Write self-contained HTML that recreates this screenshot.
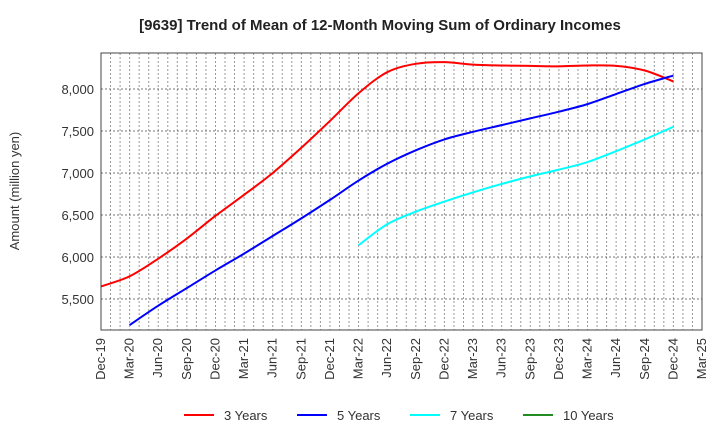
<!DOCTYPE html>
<html><head><meta charset="utf-8"><style>
body{margin:0;background:#fff;font-family:"Liberation Sans",Arial,sans-serif;}
svg text{font-family:"Liberation Sans",Arial,sans-serif;}
</style></head><body>
<svg id="chart" width="720" height="440">
<text x="380" y="30" text-anchor="middle" font-size="15" font-weight="bold" fill="#222">[9639]  Trend of Mean of 12-Month Moving Sum of Ordinary Incomes</text>
<text transform="translate(19,191) rotate(-90)" text-anchor="middle" font-size="13" fill="#333">Amount (million yen)</text>
<g id="grid"></g><g id="series"></g><g id="axes"></g>
<rect x="101" y="53" width="601" height="277" fill="none" stroke="#444" stroke-width="1"/>
<g>
<g><line x1="184" y1="415" x2="214" y2="415" stroke="#ff0000" stroke-width="2"/><text x="224" y="420" font-size="13" fill="#333">3 Years</text></g>
<g><line x1="297" y1="415" x2="327" y2="415" stroke="#0000ff" stroke-width="2"/><text x="337" y="420" font-size="13" fill="#333">5 Years</text></g>
<g><line x1="410" y1="415" x2="440" y2="415" stroke="#00ffff" stroke-width="2"/><text x="450" y="420" font-size="13" fill="#333">7 Years</text></g>
<g><line x1="523" y1="415" x2="553" y2="415" stroke="#228b22" stroke-width="2"/><text x="563" y="420" font-size="13" fill="#333">10 Years</text></g>
</g>
</svg>
<script>
const xTickLabels=["Dec-19","Mar-20","Jun-20","Sep-20","Dec-20","Mar-21","Jun-21","Sep-21","Dec-21","Mar-22","Jun-22","Sep-22","Dec-22","Mar-23","Jun-23","Sep-23","Dec-23","Mar-24","Jun-24","Sep-24","Dec-24","Mar-25"];
const yTicks=[5500,6000,6500,7000,7500,8000];
const years3=[5650,5770,5980,6220,6490,6740,7000,7300,7620,7950,8200,8300,8320,8290,8280,8275,8270,8280,8275,8220,8090];
const years5=[null,5190,5420,5630,5840,6040,6250,6460,6680,6910,7110,7270,7400,7490,7570,7650,7730,7820,7940,8060,8160];
const years7=[null,null,null,null,null,null,null,null,null,6140,6390,6540,6660,6770,6870,6960,7040,7130,7260,7400,7550];
const years10=[];
const NS="http://www.w3.org/2000/svg";
const X0=101,X1=702,Y0=53,Y1=330,MONTHS=63;
const xm=m=>X0+(X1-X0)*m/MONTHS;
const xq=i=>xm(i*3);
const y=v=>89+(8000-v)/1000*84;
function mk(tag,attrs,parent){const e=document.createElementNS(NS,tag);for(const k in attrs)e.setAttribute(k,attrs[k]);parent.appendChild(e);return e;}
const grid=document.getElementById('grid'),axes=document.getElementById('axes'),ser=document.getElementById('series');
for(let m=1;m<MONTHS;m++){const l=mk('line',{x1:xm(m),x2:xm(m),y1:Y0,y2:Y1,stroke:'#999','stroke-dasharray':'2,2','stroke-width':1},grid);

}
yTicks.forEach(v=>{const l=mk('line',{x1:X0,x2:X1,y1:y(v),y2:y(v),stroke:'#777','stroke-dasharray':'2,2','stroke-width':1},grid);


const t=mk('text',{x:94,y:y(v)+5,'text-anchor':'end','font-size':13,fill:'#333'},axes);t.textContent=v.toLocaleString('en-US');

});
xTickLabels.forEach((s,i)=>{const x=xq(i);const t=mk('text',{transform:`translate(${x+4},${Y1+8}) rotate(-90)`,'text-anchor':'end','font-size':13,fill:'#333'},axes);t.textContent=s;

});
function path(arr,color,name){const pts=[];arr.forEach((v,i)=>{if(v!=null)pts.push([xq(i),y(v)]);});if(pts.length<2)return;
let d=`M${pts[0][0]},${pts[0][1]}`;
for(let i=0;i<pts.length-1;i++){const p0=pts[i-1]||pts[i],p1=pts[i],p2=pts[i+1],p3=pts[i+2]||p2;
d+=` C${p1[0]+(p2[0]-p0[0])/6},${p1[1]+(p2[1]-p0[1])/6} ${p2[0]-(p3[0]-p1[0])/6},${p2[1]-(p3[1]-p1[1])/6} ${p2[0]},${p2[1]}`;}
const p=mk('path',{d:d,fill:'none',stroke:color,'stroke-width':2},ser);

}
path(years3,'#ff0000','line-3-years');path(years5,'#0000ff','line-5-years');path(years7,'#00ffff','line-7-years');path(years10,'#228b22','line-10-years');
</script>
</body></html>
